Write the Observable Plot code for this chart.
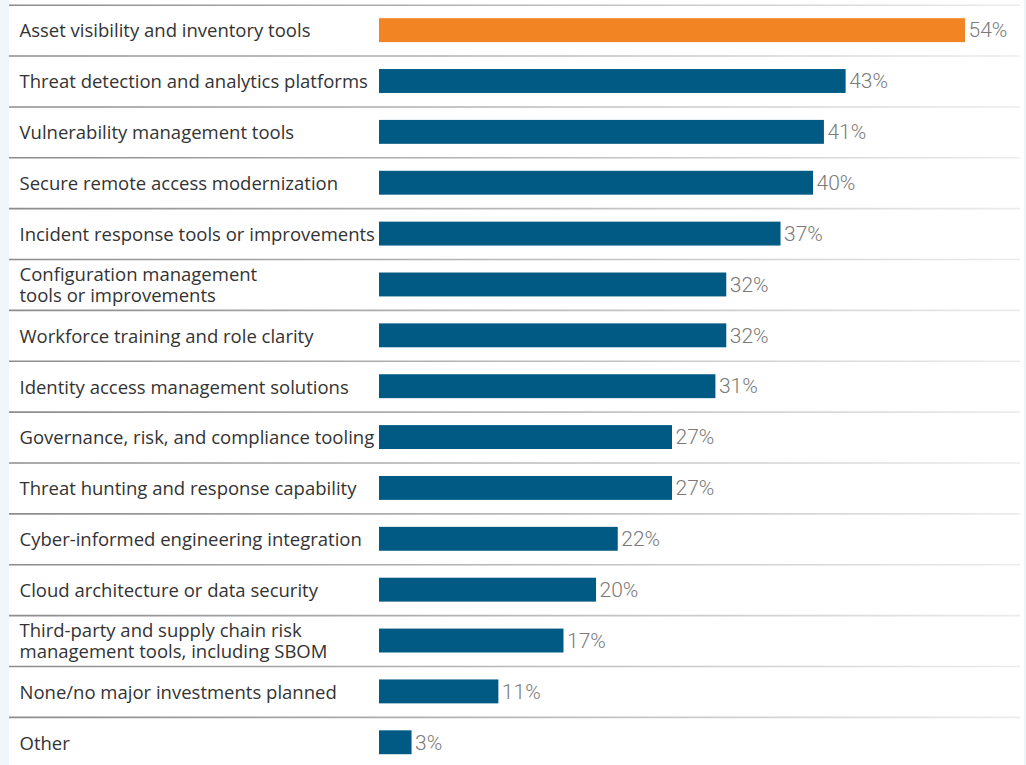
<!DOCTYPE html>
<html>
<head>
<meta charset="utf-8">
<script src="https://cdn.jsdelivr.net/npm/d3@7"></script>
<script src="https://cdn.jsdelivr.net/npm/@observablehq/plot@0.6"></script>
<style>
  html, body { margin: 0; padding: 0; }
  body {
    width: 1026px; height: 765px; overflow: hidden;
    background: linear-gradient(to right, #f0f7fc 0px, #f0f7fc 9px, #ffffff 9px, #ffffff 1024px, #eef5f8 1024px);
  }
  #chart svg { display: block; background: transparent; }
</style>
</head>
<body>
<div id="chart"></div>
<script>
const categories = [
  "Asset visibility and inventory tools",
  "Threat detection and analytics platforms",
  "Vulnerability management tools",
  "Secure remote access modernization",
  "Incident response tools or improvements",
  "Configuration management\ntools or improvements",
  "Workforce training and role clarity",
  "Identity access management solutions",
  "Governance, risk, and compliance tooling",
  "Threat hunting and response capability",
  "Cyber-informed engineering integration",
  "Cloud architecture or data security",
  "Third-party and supply chain risk\nmanagement tools, including SBOM",
  "None/no major investments planned",
  "Other"
];
const values = [54, 43, 41, 40, 37, 32, 32, 31, 27, 27, 22, 20, 17, 11, 3];
const highlighted = "Asset visibility and inventory tools";

const data = categories.map((c, i) => ({category: c, value: values[i]}));

const ORANGE = "#f28423";
const BLUE = "#005a84";

const plot = Plot.plot({
  width: 1026,
  height: 765,
  marginLeft: 9,
  marginRight: 6,
  marginTop: 0,
  marginBottom: 0,
  style: {background: "transparent"},
  x: {domain: [0, 54], range: [379, 965], axis: null},
  y: {domain: categories, range: [4.7, 767.7], paddingInner: 0.53, paddingOuter: 0.265, round: false, axis: null},
  marks: [
    Plot.ruleY(categories, {y: d => d, dy: -25.43, stroke: "url(#sepGrad)", strokeWidth: 1.6}),
    Plot.barX(data, {
      x: "value", y: "category",
      fill: d => d.category === highlighted ? ORANGE : BLUE
    }),
    Plot.text(data, {
      y: "category", text: "category",
      frameAnchor: "left", dx: 10, textAnchor: "start",
      fontSize: 18.5, fill: "#333333", lineHeight: 1.15,
      fontFamily: "'Open Sans', sans-serif"
    }),
    Plot.text(data, {
      x: "value", y: "category", text: d => d.value + "%",
      dx: 3, textAnchor: "start",
      fontSize: 21, fill: "#7a7a7a", fontWeight: 300,
      fontFamily: "Roboto, sans-serif"
    })
  ]
});

const ns = "http://www.w3.org/2000/svg";
const defs = document.createElementNS(ns, "defs");
const grad = document.createElementNS(ns, "linearGradient");
grad.setAttribute("id", "sepGrad");
grad.setAttribute("gradientUnits", "userSpaceOnUse");
grad.setAttribute("x1", "9"); grad.setAttribute("x2", "1020");
grad.setAttribute("y1", "0"); grad.setAttribute("y2", "0");
[["0%", "#8c8c8c"], ["45%", "#b4b4b4"], ["100%", "#ececec"]].forEach(([o, c]) => {
  const s = document.createElementNS(ns, "stop");
  s.setAttribute("offset", o); s.setAttribute("stop-color", c);
  grad.appendChild(s);
});
defs.appendChild(grad);
plot.insertBefore(defs, plot.firstChild);

document.getElementById("chart").appendChild(plot);
</script>
</body>
</html>
